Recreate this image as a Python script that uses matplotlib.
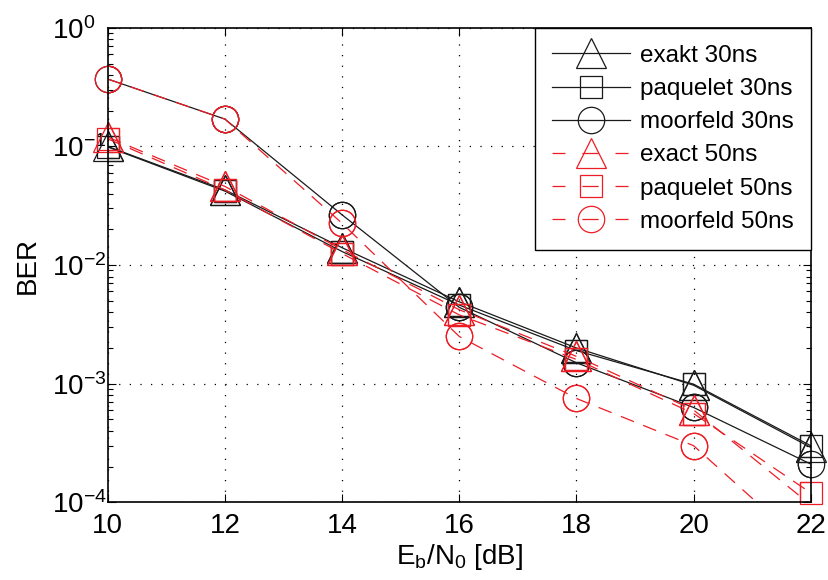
import matplotlib
matplotlib.use("Agg")
import matplotlib.pyplot as plt
import numpy as np

plt.rcParams['font.family'] = ['Liberation Sans', 'DejaVu Sans']
plt.rcParams['mathtext.fontset'] = 'custom'
plt.rcParams['mathtext.rm'] = 'Liberation Sans'
plt.rcParams['mathtext.it'] = 'Liberation Sans'

# Eb/N0 [dB]
snr = [10, 12, 14, 16, 18, 20, 22]

exakt_30 = [0.100, 0.043, 0.0140, 0.0049, 0.0020, 0.00097, 0.00029]
paquelet_30 = [0.099, 0.042, 0.0130, 0.0046, 0.0019, 0.00099, 0.00030]
moorfeld_30 = [0.37, 0.17, 0.0265, 0.0044, 0.0015, 0.00063, 0.00021]
exact_50 = [0.120, 0.046, 0.0135, 0.0042, 0.0017, 0.00060, 0.000095]
paquelet_50 = [0.116, 0.043, 0.0125, 0.0038, 0.0016, 0.00056, 0.00012]
moorfeld_50 = [0.37, 0.17, 0.0225, 0.0025, 0.00075, 0.00030, 0.000039]

labels = ['exakt 30ns', 'paquelet 30ns', 'moorfeld 30ns',
          'exact 50ns', 'paquelet 50ns', 'moorfeld 50ns']

BLACK = '#1a1a1a'
RED = '#ee1c25'
YMIN, YMAX = 1e-4, 1
LW = 0.9

series = [
    (exakt_30, BLACK, '-', '^', 21),
    (paquelet_30, BLACK, '-', 's', 16),
    (moorfeld_30, BLACK, '-', 'o', 19),
    (exact_50, RED, '--', '^', 21),
    (paquelet_50, RED, '--', 's', 16),
    (moorfeld_50, RED, '--', 'o', 19),
]

fig = plt.figure(figsize=(8.29, 5.8), dpi=100)
ax = fig.add_axes([0.130, 0.134, 0.848, 0.818])

x = np.array(snr)
for (vals, col, ls, mk, ms), lab in zip(series, labels):
    y = np.array(vals)
    vis = [i for i in range(len(y)) if YMIN <= y[i] <= YMAX]
    ln, = ax.plot(x, y, color=col, lw=LW, ls=ls, marker=mk, ms=ms,
                  mfc='none', mec=col, mew=LW, markevery=vis, label=lab)
    if ls == '--':
        ln.set_dashes((11.2, 8))
    # markers like matlab: not clipped at the box
    ax.plot(x[vis], y[vis], ls='none', marker=mk, ms=ms, mfc='none',
            mec=col, mew=LW, clip_on=False)

ax.set_yscale('log')
ax.set_xlim(10, 22)
ax.set_ylim(YMIN, YMAX)
ax.set_xticks(snr)
ax.set_yticks([1e-4, 1e-3, 1e-2, 1e-1, 1])
ax.grid(True, which='major', color='black', ls=(0, (1, 7.5)), lw=0.9)
ax.tick_params(which='both', direction='in', top=True, right=True,
               labelsize=20, width=0.8, color='black')
ax.tick_params(which='major', length=6)
ax.tick_params(which='minor', length=3.5)
ax.tick_params(axis='x', pad=8)
ax.tick_params(axis='y', pad=40)
for lbl in ax.get_yticklabels():
    lbl.set_horizontalalignment('left')
for sp in ax.spines.values():
    sp.set_linewidth(1.2)

ax.set_xlabel(r'E$_\mathregular{b}$/N$_\mathregular{0}$ [dB]', fontsize=20, labelpad=2)
ax.set_ylabel('BER', fontsize=20, labelpad=8)

leg = ax.legend(loc='upper right', fontsize=17.5, fancybox=False, framealpha=1,
                edgecolor='black', borderaxespad=0, handlelength=3.2,
                handletextpad=0.4, labelspacing=0.46, borderpad=0.7)
leg.get_frame().set_linewidth(1.0)
# symmetric dash in the legend: short dash, marker, short dash
for hl in leg.get_lines():
    if hl.get_color() == RED:
        hl.set_dashes((10.4, 13.5, 13, 13.5))

fig.savefig('out.png', dpi=100)
